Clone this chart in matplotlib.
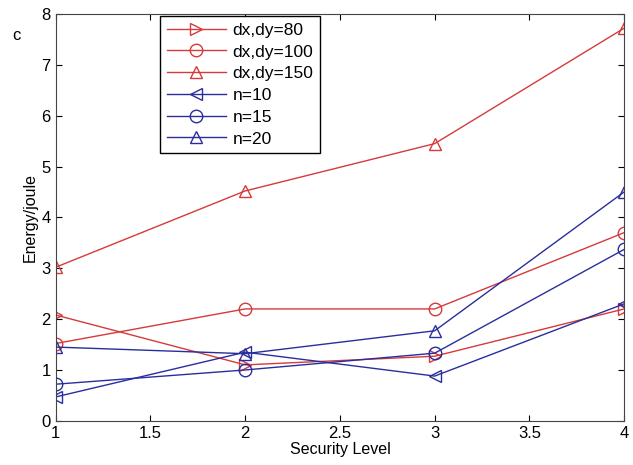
import matplotlib
matplotlib.use("Agg")
import matplotlib.pyplot as plt

plt.rcParams["font.family"] = ["Liberation Sans", "DejaVu Sans"]

# ── Data ─────────────────────────────────────────────────────────────────────
levels = [1, 2, 3, 4]
dxdy80 = [2.08, 1.10, 1.27, 2.20]
dxdy100 = [1.52, 2.20, 2.20, 3.70]
dxdy150 = [3.02, 4.52, 5.45, 7.72]
n10 = [0.47, 1.35, 0.88, 2.30]
n15 = [0.72, 1.00, 1.33, 3.37]
n20 = [1.45, 1.32, 1.77, 4.50]

RED = "#d63a3a"
BLUE = "#2a2e9c"

fig = plt.figure(figsize=(6.33, 4.65), dpi=100)
ax = fig.add_axes([0.088, 0.095, 0.898, 0.875])

mk = dict(markersize=9, markerfacecolor="none", linewidth=1.0)
ax.plot(levels, dxdy80, marker=">", color=RED, label="dx,dy=80", **mk)
ax.plot(levels, dxdy100, marker="o", color=RED, label="dx,dy=100", **mk)
ax.plot(levels, dxdy150, marker="^", color=RED, label="dx,dy=150", **mk)
ax.plot(levels, n10, marker="<", color=BLUE, label="n=10", **mk)
ax.plot(levels, n15, marker="o", color=BLUE, label="n=15", **mk)
ax.plot(levels, n20, marker="^", color=BLUE, label="n=20", **mk)

ax.set_xlim(1, 4)
ax.set_ylim(0, 8)
ax.set_xticks([1, 1.5, 2, 2.5, 3, 3.5, 4])
ax.set_xticklabels(["1", "1.5", "2", "2.5", "3", "3.5", "4"])
ax.tick_params(direction="in", top=True, right=True, labelsize=12, length=4)
for s in ax.spines.values():
    s.set_color("#444444")

ax.set_xlabel("Security Level", fontsize=11.5, labelpad=1)
ax.set_ylabel("Energy/joule", fontsize=11.5, labelpad=3)
fig.text(0.02, 0.915, "c", fontsize=12)

leg = ax.legend(loc="upper left", bbox_to_anchor=(0.18, 1.0), fontsize=12.5,
                fancybox=False, framealpha=1, edgecolor="black",
                handlelength=3.4, borderpad=0.4, labelspacing=0.38,
                handletextpad=0.4, borderaxespad=0.1)
leg.get_frame().set_linewidth(1.0)

plt.savefig("out.png", dpi=100)
